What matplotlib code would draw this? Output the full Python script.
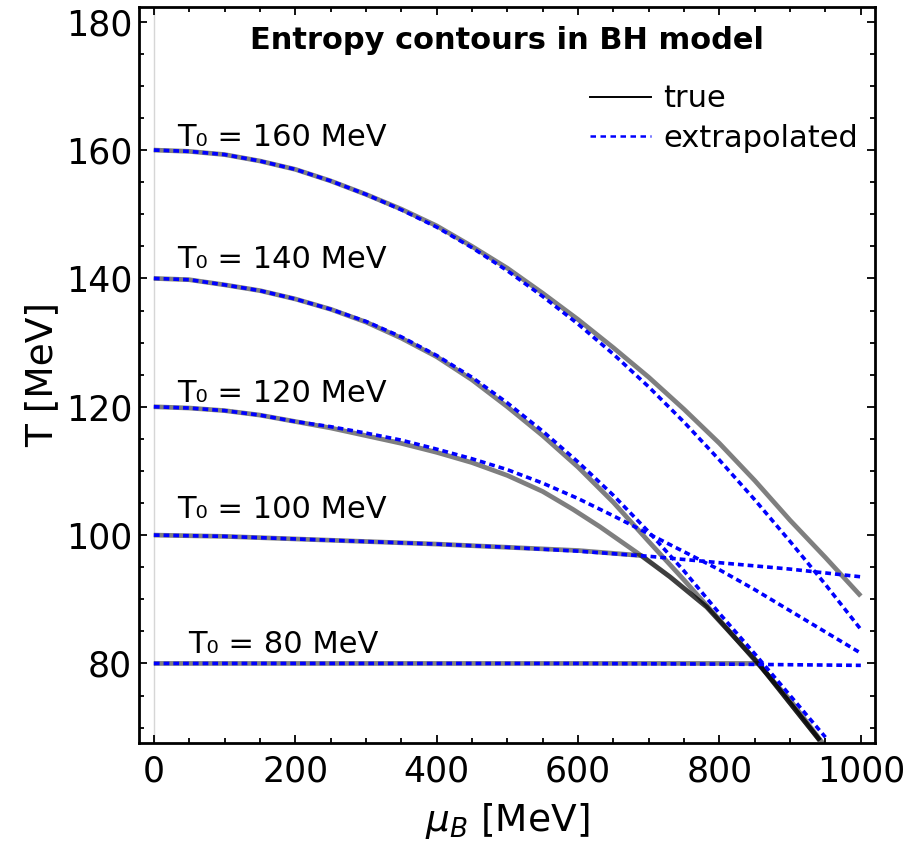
import numpy as np
import matplotlib
matplotlib.use("Agg")
import matplotlib.pyplot as plt
from matplotlib.lines import Line2D
from matplotlib.ticker import MultipleLocator

# ---- data (mu_B in MeV, T in MeV) ----
mu_grid = [0, 50, 100, 150, 200, 250, 300, 350, 400, 450, 500,
           550, 600, 650, 700, 750, 800, 850, 900, 950, 1000]

t160_true = [160, 159.8, 159.3, 158.3, 157.0, 155.2, 153.1, 150.8, 148.2, 145.0, 141.6,
             137.7, 133.6, 129.2, 124.6, 119.6, 114.3, 108.5, 102.3, 96.5, 90.5]
t160_ext = [160, 159.8, 159.3, 158.3, 157.0, 155.2, 153.1, 150.7, 148.0, 144.8, 141.2,
            137.2, 132.9, 128.2, 123.1, 117.6, 111.7, 105.5, 99.0, 92.3, 85.3]

mu_140 = mu_grid[:-1]
t140_true = [140, 139.8, 139.0, 138.1, 136.8, 135.2, 133.2, 130.7, 127.8, 124.2, 120.0,
             115.5, 110.6, 105.1, 99.0, 93.0, 86.8, 80.5, 74.3, 67.0]
t140_ext = [140, 139.8, 139.0, 138.1, 136.8, 135.2, 133.3, 130.9, 128.0, 124.6, 120.6,
            116.2, 111.4, 106.2, 100.5, 94.4, 87.8, 81.5, 75.0, 68.5]

mu_120_true = [0, 50, 100, 150, 200, 250, 300, 350, 400, 450, 500, 550, 593]
t120_true = [120, 119.8, 119.4, 118.7, 117.7, 116.7, 115.5, 114.3, 112.9, 111.3, 109.3,
             106.8, 104.0]
t120_ext = [120, 119.8, 119.4, 118.7, 117.7, 116.9, 115.9, 114.8, 113.4, 111.9, 110.2,
            108.1, 105.7, 103.0, 100.2, 97.4, 94.6, 91.5, 88.2, 84.9, 81.6]

mu_100_true = [0, 100, 200, 300, 400, 500, 600, 690]
t100_true = [100, 99.8, 99.4, 99.0, 98.6, 98.1, 97.6, 96.8]
mu_100_ext = [0, 100, 200, 300, 400, 500, 600, 700, 800, 900, 1000]
t100_ext = [100, 99.8, 99.4, 99.0, 98.6, 98.1, 97.5, 96.7, 95.7, 94.7, 93.5]

mu_80_true = [0, 200, 400, 600, 800, 855]
t80_true = [80, 80, 80, 80, 80, 80]
mu_80_ext = [0, 200, 400, 600, 800, 900, 1000]
t80_ext = [80, 80, 80, 80, 79.9, 79.8, 79.7]

# the line where the low-T true contours pile up
trans_mu = [631, 683, 730, 782, 857, 942]
trans_t = [101.3, 97.3, 93.5, 88.8, 79.8, 68.0]

labels_t0 = ["T₀ = 160 MeV", "T₀ = 140 MeV", "T₀ = 120 MeV", "T₀ = 100 MeV", "T₀ = 80 MeV"]
label_mu = [33, 33, 33, 33, 49]
label_t = [160.7, 141.6, 120.8, 102.6, 81.6]


def with_transition(mu, t):
    mu = list(mu)
    t = list(t)
    for m, v in zip(trans_mu, trans_t):
        if m > mu[-1] + 3:
            mu.append(m)
            t.append(v)
    return mu, t


fig = plt.figure(figsize=(9.1, 8.51), dpi=100)
ax = fig.add_axes([0.1527, 0.1269, 0.8088, 0.8649])

ax.axvline(0, color="#d6d6d6", lw=1.0, zorder=0)

true_kw = dict(color="k", alpha=0.5, lw=3.4, solid_capstyle="butt",
               solid_joinstyle="round", zorder=2)
ext_kw = dict(color="#0000ff", lw=2.6, dashes=(1.6, 1.1), dash_capstyle="butt", zorder=3)

true_curves = [
    (mu_grid, t160_true),
    (mu_140, t140_true),
    with_transition(mu_120_true, t120_true),
    with_transition(mu_100_true, t100_true),
    with_transition(mu_80_true, t80_true),
]
for mu, t in true_curves:
    ax.plot(mu, t, **true_kw)

ext_curves = [
    (mu_grid, t160_ext),
    (mu_140, t140_ext),
    (mu_grid, t120_ext),
    (mu_100_ext, t100_ext),
    (mu_80_ext, t80_ext),
]
for mu, t in ext_curves:
    ax.plot(mu, t, **ext_kw)

for txt, x, y in zip(labels_t0, label_mu, label_t):
    ax.text(x, y, txt, fontsize=22, ha="left", va="baseline")

ax.text(0.5, 0.943, "Entropy contours in BH model", transform=ax.transAxes,
        ha="center", va="baseline", fontsize=22, fontweight="bold")

handles = [Line2D([], [], color="k", lw=1.4),
           Line2D([], [], color="#0000ff", lw=1.8, dashes=(2.2, 1.8))]
ax.legend(handles, ["true", "extrapolated"], loc="upper left",
          bbox_to_anchor=(0.613, 0.895), frameon=False, fontsize=22,
          handlelength=2.0, handletextpad=0.4, labelspacing=0.35,
          borderpad=0, borderaxespad=0)

ax.set_xlim(-21, 1020)
ax.set_ylim(67.6, 182.3)
ax.xaxis.set_major_locator(MultipleLocator(200))
ax.xaxis.set_minor_locator(MultipleLocator(50))
ax.yaxis.set_major_locator(MultipleLocator(20))
ax.yaxis.set_minor_locator(MultipleLocator(5))
ax.tick_params(which="both", direction="in", top=True, right=True,
               labelsize=25, width=1.3, color="k")
ax.tick_params(which="major", length=6)
ax.tick_params(which="minor", length=3.5)
ax.tick_params(axis="x", which="major", pad=8)
ax.tick_params(axis="y", which="major", pad=5)
for s in ax.spines.values():
    s.set_linewidth(2.0)

ax.set_xlabel(r"$\mu_B$ [MeV]", fontsize=27, labelpad=9)
ax.set_ylabel("T [MeV]", fontsize=27, labelpad=4)

fig.savefig("out.png", dpi=100)
